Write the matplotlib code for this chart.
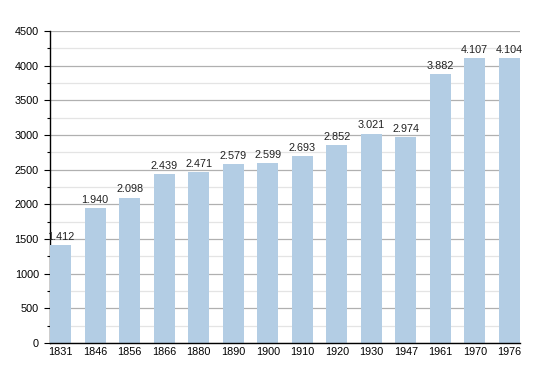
import matplotlib
matplotlib.use("Agg")
import matplotlib.pyplot as plt
from matplotlib.ticker import MultipleLocator

years = ["1831", "1846", "1856", "1866", "1880", "1890", "1900", "1910", "1920", "1930", "1947", "1961", "1970", "1976"]
population = [1412, 1940, 2098, 2439, 2471, 2579, 2599, 2693, 2852, 3021, 2974, 3882, 4107, 4104]
labels = ["1.412", "1.940", "2.098", "2.439", "2.471", "2.579", "2.599", "2.693", "2.852", "3.021", "2.974", "3.882", "4.107", "4.104"]

plt.rcParams['font.family'] = ['Liberation Sans', 'DejaVu Sans']

fig = plt.figure(figsize=(5.5, 3.73), dpi=100)
ax = fig.add_axes([50/550, 30/373, 470/550, 312/373])

x = list(range(len(years)))
w = 0.62
ax.bar(x, population, width=w, color="#b3cde4", zorder=3)
for xi, v, lab in zip(x, population, labels):
    ax.text(xi, v + 45, lab, ha="center", va="bottom", fontsize=7.8, color="#222222", zorder=4)

ax.set_xlim(-w/2, len(years) - 1 + w/2)
ax.set_ylim(0, 4500)
ax.yaxis.set_major_locator(MultipleLocator(500))
ax.yaxis.set_minor_locator(MultipleLocator(250))
ax.grid(axis="y", which="major", color="#b0b0b0", linewidth=0.9, zorder=0)
ax.grid(axis="y", which="minor", color="#e4e4e4", linewidth=0.9, zorder=0)
ax.set_xticks(x)
ax.set_xticklabels(years)
ax.tick_params(axis="x", length=0, labelsize=7.8, pad=3)
ax.tick_params(axis="y", which="major", length=4, width=0.8, labelsize=7.8, pad=4)
ax.tick_params(axis="y", which="minor", length=2, width=0.8)
for s in ["top", "right"]:
    ax.spines[s].set_visible(False)
ax.spines["left"].set_linewidth(1.0)
ax.spines["bottom"].set_linewidth(1.0)
ax.spines["bottom"].set_zorder(5)

fig.savefig("out.png", dpi=100)
